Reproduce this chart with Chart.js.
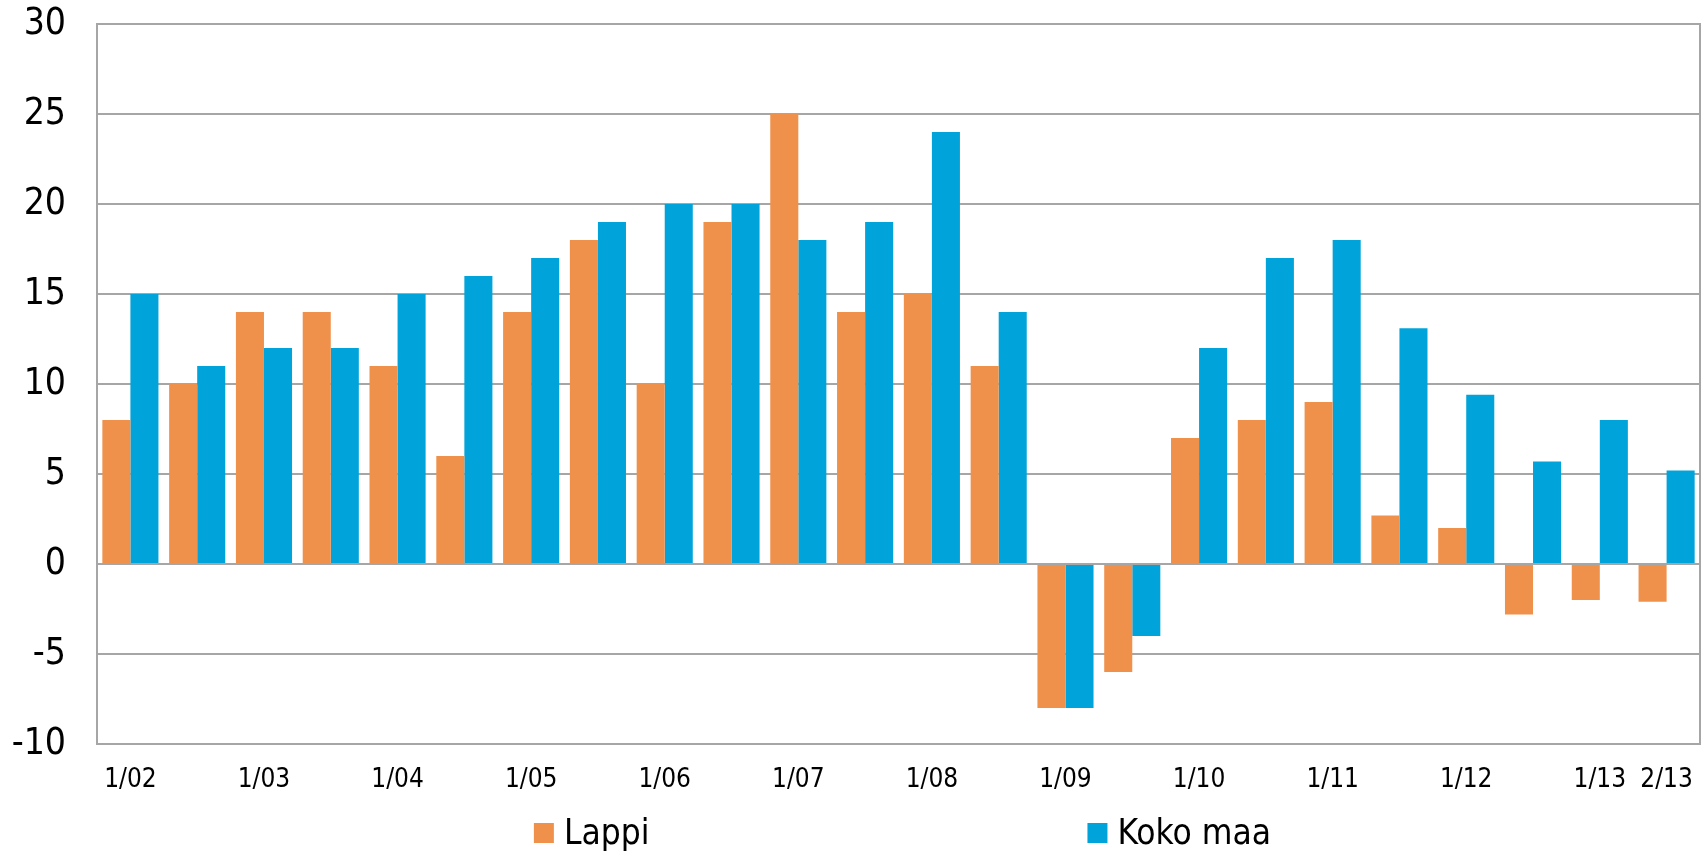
<!DOCTYPE html>
<html><head><meta charset="utf-8">
<script src="https://cdn.jsdelivr.net/npm/chart.js@4.4.1/dist/chart.umd.min.js"></script>
<style>html,body{margin:0;padding:0;background:#fff;overflow:hidden}</style>
</head><body>
<canvas id="c" width="1708" height="853"></canvas>
<script>
const categories = ['1/02','','1/03','','1/04','','1/05','','1/06','','1/07','','1/08','','1/09','','1/10','','1/11','','1/12','','1/13','2/13'];
const lappi   = [8, 10, 14, 14, 11, 6, 14, 18, 10, 19, 25, 14, 15, 11, -8, -6, 7, 8, 9, 2.7, 2.0, -2.8, -2.0, -2.1];
const kokoMaa = [15, 11, 12, 12, 15, 16, 17, 19, 20, 20, 18, 19, 24, 14, -8, -4, 12, 17, 18, 13.1, 9.4, 5.7, 8, 5.2];
const seriesNames = ['Lappi', 'Koko maa'];
const yMin = -10, yMax = 30, yStep = 5;

const FONT = "'DejaVu Sans Condensed', 'DejaVu Sans', sans-serif";
const GRID = '#a6a6a6';

const framePlugin = {
  id: 'frame',
  afterDraw(chart) {
    const {ctx, chartArea: a} = chart;
    ctx.save();
    ctx.strokeStyle = GRID;
    ctx.lineWidth = 2;
    ctx.strokeRect(a.left, a.top, a.right - a.left, a.bottom - a.top);
    ctx.restore();
  }
};

const legendPlugin = {
  id: 'bottomLegend',
  afterDraw(chart) {
    const {ctx, chartArea: a} = chart;
    ctx.save();
    ctx.font = "35px " + FONT;
    const box = 20, textGap = 10, itemGap = 438;
    const items = chart.data.datasets.map(ds => ({
      text: ds.label, color: ds.backgroundColor,
      w: box + textGap + ctx.measureText(ds.label).width
    }));
    const total = items.reduce((s, it) => s + it.w, 0) + itemGap * (items.length - 1);
    let x = (a.left + a.right) / 2 - total / 2 + 4;
    const boxTop = chart.height - 30;
    items.forEach(it => {
      ctx.fillStyle = it.color;
      ctx.fillRect(x, boxTop, box, box);
      ctx.fillStyle = '#000';
      ctx.textBaseline = 'alphabetic';
      ctx.textAlign = 'left';
      ctx.fillText(it.text, x + box + textGap, boxTop + box + 1);
      x += it.w + itemGap;
    });
    ctx.restore();
  }
};

new Chart(document.getElementById('c'), {
  type: 'bar',
  data: {
    labels: categories,
    datasets: [
      { label: seriesNames[0], data: lappi, backgroundColor: '#F0914B', borderWidth: 0 },
      { label: seriesNames[1], data: kokoMaa, backgroundColor: '#00A4DA', borderWidth: 0 }
    ]
  },
  options: {
    responsive: false,
    animation: false,
    devicePixelRatio: 1,
    layout: { padding: { top: 24, right: 8, left: 0, bottom: 0 } },
    datasets: { bar: { categoryPercentage: 0.84, barPercentage: 1.0 } },
    plugins: { legend: { display: false }, tooltip: { enabled: false } },
    scales: {
      x: {
        grid: { display: false, drawTicks: false },
        border: { display: true, color: GRID, width: 2 },
        ticks: {
          autoSkip: false, maxRotation: 0, minRotation: 0,
          color: '#000', padding: 21,
          font: { family: FONT, size: 26 }
        },
        afterFit(scale) { scale.height = 109; scale.paddingLeft = 0; scale.paddingRight = 0; }
      },
      y: {
        min: yMin, max: yMax,
        grid: { color: GRID, lineWidth: 2, drawTicks: false },
        border: { display: true, color: GRID, width: 2 },
        ticks: {
          stepSize: yStep, color: '#000', padding: 31,
          font: { family: FONT, size: 37 }
        },
        afterFit(scale) { scale.width = 97; scale.paddingTop = 0; scale.paddingBottom = 0; }
      }
    }
  },
  plugins: [framePlugin, legendPlugin]
});
</script>
</body></html>
